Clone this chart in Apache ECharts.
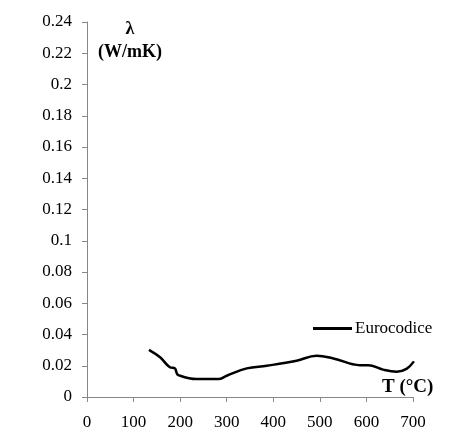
<!DOCTYPE html>
<html>
<head>
<meta charset="UTF-8">
<script src="https://cdn.jsdelivr.net/npm/echarts@6/dist/echarts.min.js"></script>
<style>
  body { margin: 0; background: #fff; }
  #chart { width: 463px; height: 431px; }
</style>
</head>
<body>
<div id="chart"></div>
<script>
  // temperature (°C) and conductivity (W/mK)
  var temps = [133, 157, 178, 189, 192, 196, 235, 282, 300, 343, 386, 450, 493, 529, 586, 604, 636, 665, 686, 702];
  var lambda = [0.0302, 0.0254, 0.019, 0.0183, 0.0158, 0.014, 0.0115, 0.0115, 0.0136, 0.0183, 0.020, 0.0232, 0.0264, 0.0247, 0.0204, 0.0204, 0.0175, 0.0162, 0.018, 0.0228];
  var seriesName = 'Eurocodice';

  var pts = temps.map(function (t, i) { return [t, lambda[i]]; });

  var chart = echarts.init(document.getElementById('chart'));
  var font = 'Liberation Serif';
  chart.setOption({
    animation: false,
    grid: { left: 87, right: 50, top: 22, bottom: 33 },
    legend: {
      data: [{ name: seriesName, icon: 'rect' }],
      left: 308,
      top: 315,
      itemWidth: 39,
      itemHeight: 3,
      itemGap: 3,
      textStyle: { fontFamily: font, fontSize: 17, color: '#000', padding: [0, 0, 0, -2] }
    },
    xAxis: {
      type: 'value',
      min: 0, max: 700, interval: 100,
      axisLine: { lineStyle: { color: '#888' } },
      axisTick: { show: true, lineStyle: { color: '#888' }, length: 5 },
      axisLabel: { fontFamily: font, fontSize: 17, color: '#000', margin: 17 },
      splitLine: { show: false }
    },
    yAxis: {
      type: 'value',
      min: 0, max: 0.24, interval: 0.02,
      axisLine: { show: true, lineStyle: { color: '#888' } },
      axisTick: { show: true, lineStyle: { color: '#888' }, length: 5 },
      axisLabel: {
        fontFamily: font, fontSize: 17, color: '#000', margin: 15,
        formatter: function (v) { return String(+v.toFixed(2)); }
      },
      splitLine: { show: false }
    },
    graphic: [
      { type: 'text', x: 130, y: 29, style: { text: 'λ', font: 'bold 18px ' + font, fill: '#000', align: 'center', verticalAlign: 'middle' } },
      { type: 'text', x: 130, y: 52, style: { text: '(W/mK)', font: 'bold 18px ' + font, fill: '#000', align: 'center', verticalAlign: 'middle' } },
      { type: 'text', x: 382, y: 387, style: { text: 'T (°C)', font: 'bold 19px ' + font, fill: '#000', align: 'left', verticalAlign: 'middle' } }
    ],
    series: [{
      name: seriesName,
      type: 'line',
      data: pts,
      smooth: 0.4,
      showSymbol: false,
      symbol: 'none',
      lineStyle: { color: '#000', width: 2.5 },
      itemStyle: { color: '#000' }
    }]
  });
</script>
</body>
</html>
